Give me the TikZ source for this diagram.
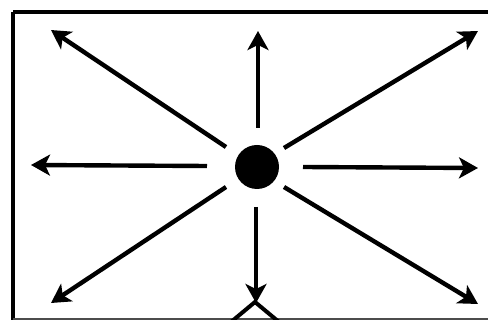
\documentclass[tikz,border=0pt]{standalone}
\usetikzlibrary{arrows.meta}
\begin{document}
\begin{tikzpicture}[x=1pt,y=-1pt,
  ray/.style={line width=4.4pt,-{Stealth[length=19pt,width=21pt,inset=5pt]}},
  frame/.style={line width=3.4pt},
  chev/.style={line width=4pt}]
\clip (0,0) rectangle (488,320);
\fill[white] (0,0) rectangle (488,320);
\draw[frame] (13,12) -- (500,12);
\draw[frame] (13,12) -- (13,325);
\draw[line width=2pt,black!70] (13,319) -- (500,319);
\node[circle,fill=black,inner sep=0pt,minimum size=44pt] (c) at (257,167) {};
% start coordinates
\coordinate (sU) at (258,128);
\coordinate (sD) at (256,207);
\coordinate (sL) at (207,166);
\coordinate (sR) at (303,167);
\coordinate (sUL) at (226,147);
\coordinate (sUR) at (284,148);
\coordinate (sDL) at (226,187);
\coordinate (sDR) at (284,187);
% tips
\coordinate (tU) at (258,31);
\coordinate (tD) at (256,303);
\coordinate (tL) at (31,165);
\coordinate (tR) at (478,168);
\coordinate (tUL) at (51,30);
\coordinate (tUR) at (478,31);
\coordinate (tDL) at (51,303);
\coordinate (tDR) at (478,304);
\draw[ray] (sU) -- (tU);
\draw[ray] (sD) -- (tD);
\draw[ray] (sL) -- (tL);
\draw[ray] (sR) -- (tR);
\draw[ray] (sUL) -- (tUL);
\draw[ray] (sUR) -- (tUR);
\draw[ray] (sDL) -- (tDL);
\draw[ray] (sDR) -- (tDR);
% chevron at bottom
\coordinate (ca) at (255,302);
\coordinate (cl) at (231,322);
\coordinate (cr) at (279,322);
\draw[chev] (cl) -- (ca) -- (cr);
\end{tikzpicture}
\end{document}
